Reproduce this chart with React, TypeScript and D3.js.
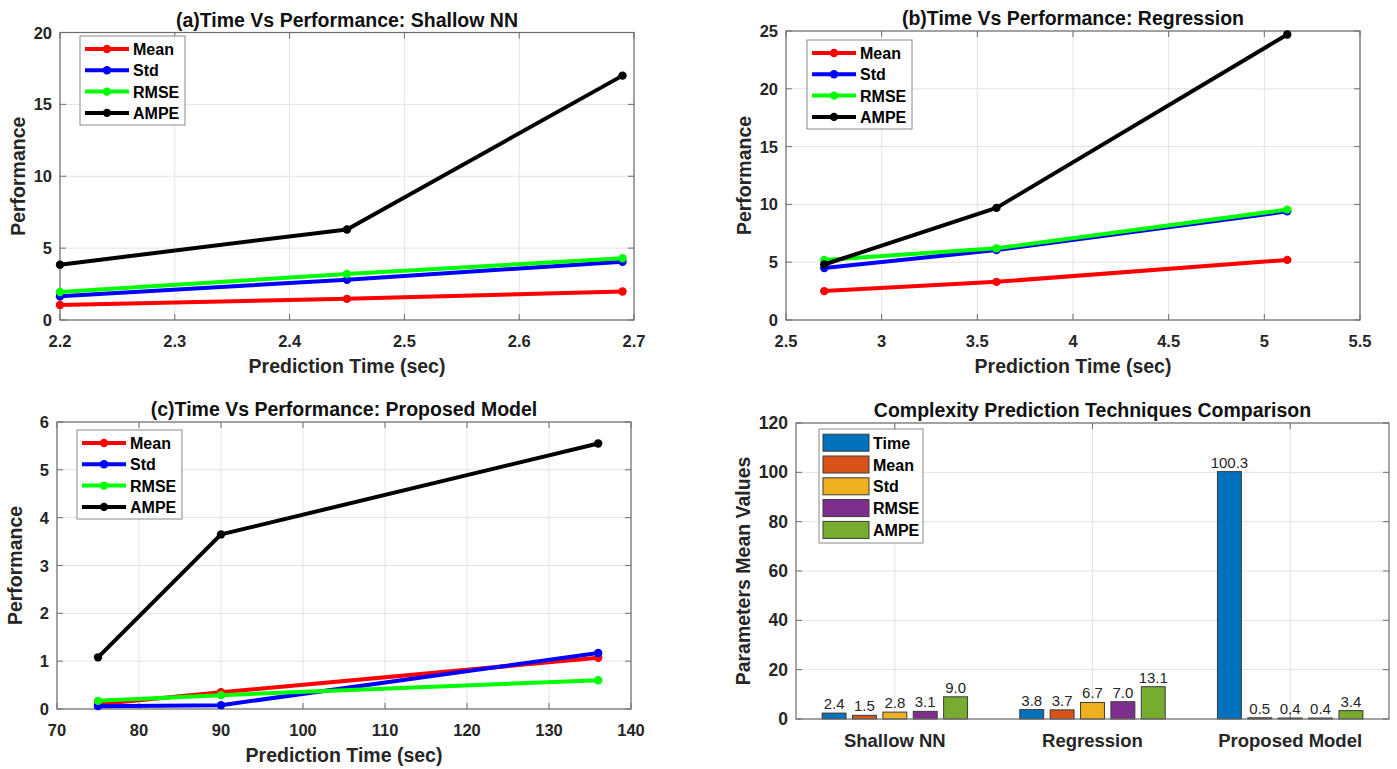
import React from "react";
import * as d3 from "d3";

// series shared by the three line panels
const seriesNames = ["Mean", "Std", "RMSE", "AMPE"];
const seriesColors = ["#ff0000", "#0000ff", "#00ff00", "#000000"];

// (a) Shallow NN
const shallowTime = [2.2, 2.45, 2.69];
const shallowMean = [1.05, 1.47, 1.98];
const shallowStd = [1.65, 2.8, 4.05];
const shallowRmse = [1.95, 3.2, 4.3];
const shallowAmpe = [3.85, 6.3, 17.0];

// (b) Regression
const regTime = [2.7, 3.6, 5.12];
const regMean = [2.5, 3.3, 5.2];
const regStd = [4.5, 6.05, 9.4];
const regRmse = [5.2, 6.2, 9.55];
const regAmpe = [4.8, 9.7, 24.7];

// (c) Proposed model
const propTime = [75, 90, 136];
const propMean = [0.1, 0.35, 1.07];
const propStd = [0.06, 0.08, 1.17];
const propRmse = [0.17, 0.29, 0.6];
const propAmpe = [1.08, 3.65, 5.55];

// tick values
const aXTicks = [2.2, 2.3, 2.4, 2.5, 2.6, 2.7];
const aYTicks = [0, 5, 10, 15, 20];
const bXTicks = [2.5, 3, 3.5, 4, 4.5, 5, 5.5];
const bYTicks = [0, 5, 10, 15, 20, 25];
const cXTicks = [70, 80, 90, 100, 110, 120, 130, 140];
const cYTicks = [0, 1, 2, 3, 4, 5, 6];

// bar chart: mean values per technique
const barCategories = ["Shallow NN", "Regression", "Proposed Model"];
const barSeriesNames = ["Time", "Mean", "Std", "RMSE", "AMPE"];
const barColors = ["#0072BD", "#D95319", "#EDB120", "#7E2F8E", "#77AC30"];
const barTime = [2.4, 3.8, 100.3];
const barMean = [1.5, 3.7, 0.5];
const barStd = [2.8, 6.7, 0.4];
const barRmse = [3.1, 7.0, 0.4];
const barAmpe = [9.0, 13.1, 3.4];
const barYTicks = [0, 20, 40, 60, 80, 100, 120];

const FONT = "'Liberation Sans', Arial, Helvetica, sans-serif";
const TXT = "#262626";
const GRID = "#e3e3e3";
const AXIS = "#6e6e6e";
const fmt = d3.format("~g");

type Box = { left: number; right: number; top: number; bottom: number };

const LinePanel = ({ box, xDomain, xTicks, yDomain, yTicks, title, xs, ys, legend }: any) => {
  const x = d3.scaleLinear().domain(xDomain).range([box.left, box.right]);
  const y = d3.scaleLinear().domain(yDomain).range([box.bottom, box.top]);
  const line = d3.line<[number, number]>().x(d => x(d[0])).y(d => y(d[1]));
  const tk = 6;
  return (
    <g>
      {xTicks.map((t: number) => (
        <line key={"gx" + t} x1={x(t)} x2={x(t)} y1={box.top} y2={box.bottom} stroke={GRID} />
      ))}
      {yTicks.map((t: number) => (
        <line key={"gy" + t} x1={box.left} x2={box.right} y1={y(t)} y2={y(t)} stroke={GRID} />
      ))}
      {xTicks.map((t: number) => (
        <g key={"tx" + t}>
          <line x1={x(t)} x2={x(t)} y1={box.bottom} y2={box.bottom - tk} stroke={AXIS} />
          <line x1={x(t)} x2={x(t)} y1={box.top} y2={box.top + tk} stroke={AXIS} />
          <text x={x(t)} y={box.bottom + 26.5} textAnchor="middle" fontSize={16.5} fontWeight="bold" fill={TXT}>
            {fmt(t)}
          </text>
        </g>
      ))}
      {yTicks.map((t: number) => (
        <g key={"ty" + t}>
          <line x1={box.left} x2={box.left + tk} y1={y(t)} y2={y(t)} stroke={AXIS} />
          <line x1={box.right} x2={box.right - tk} y1={y(t)} y2={y(t)} stroke={AXIS} />
          <text x={box.left - 8} y={y(t) + 6} textAnchor="end" fontSize={16.5} fontWeight="bold" fill={TXT}>
            {fmt(t)}
          </text>
        </g>
      ))}
      <rect x={box.left} y={box.top} width={box.right - box.left} height={box.bottom - box.top}
        fill="none" stroke={AXIS} strokeWidth={1.2} />
      {ys.map((vals: number[], i: number) => {
        const pts: [number, number][] = vals.map((v, j) => [xs[j], v]);
        return (
          <g key={"s" + i}>
            <path d={line(pts) || ""} fill="none" stroke={seriesColors[i]} strokeWidth={4} strokeLinejoin="round" />
            {pts.map((p, j) => (
              <circle key={j} cx={x(p[0])} cy={y(p[1])} r={4.2} fill={seriesColors[i]} />
            ))}
          </g>
        );
      })}
      <text x={(box.left + box.right) / 2} y={box.top - 6} textAnchor="middle" fontSize={19.5} fontWeight="bold" fill="#111">
        {title}
      </text>
      <text x={(box.left + box.right) / 2} y={box.bottom + 53} textAnchor="middle" fontSize={19.5} fontWeight="bold" fill={TXT}>
        Prediction Time (sec)
      </text>
      <text transform={`translate(${box.left - 35},${(box.top + box.bottom) / 2}) rotate(-90)`}
        textAnchor="middle" fontSize={19.5} fontWeight="bold" fill={TXT}>
        Performance
      </text>
      <rect x={legend.x} y={legend.y} width={105} height={89} fill="#fff" stroke="#8a8a8a" />
      {seriesNames.map((n, i) => {
        const cy = legend.y + 13 + i * 21.3;
        return (
          <g key={"l" + n}>
            <line x1={legend.x + 5} x2={legend.x + 49} y1={cy} y2={cy} stroke={seriesColors[i]} strokeWidth={4} />
            <circle cx={legend.x + 27} cy={cy} r={4.2} fill={seriesColors[i]} />
            <text x={legend.x + 53} y={cy + 6} fontSize={16} fontWeight="bold" fill="#000">{n}</text>
          </g>
        );
      })}
    </g>
  );
};

const BarPanel = () => {
  const box: Box = { left: 796, right: 1389, top: 423, bottom: 719 };
  const x = d3.scaleLinear().domain([0.5, 3.5]).range([box.left, box.right]);
  const y = d3.scaleLinear().domain([0, 120]).range([box.bottom, box.top]);
  const values = [barTime, barMean, barStd, barRmse, barAmpe];
  const step = 0.1537;
  const bw = 0.121;
  const tk = 6;
  const legend = { x: 819, y: 429 };
  return (
    <g>
      {barCategories.map((c, i) => (
        <line key={"gx" + c} x1={x(i + 1)} x2={x(i + 1)} y1={box.top} y2={box.bottom} stroke={GRID} />
      ))}
      {barYTicks.map(t => (
        <line key={"gy" + t} x1={box.left} x2={box.right} y1={y(t)} y2={y(t)} stroke={GRID} />
      ))}
      {barYTicks.map(t => (
        <g key={"ty" + t}>
          <line x1={box.left} x2={box.left + tk} y1={y(t)} y2={y(t)} stroke={AXIS} />
          <line x1={box.right} x2={box.right - tk} y1={y(t)} y2={y(t)} stroke={AXIS} />
          <text x={box.left - 8} y={y(t) + 6} textAnchor="end" fontSize={17.5} fontWeight="bold" fill={TXT}>
            {t}
          </text>
        </g>
      ))}
      {barCategories.map((c, i) => (
        <g key={"tx" + c}>
          <line x1={x(i + 1)} x2={x(i + 1)} y1={box.bottom} y2={box.bottom - tk} stroke={AXIS} />
          <line x1={x(i + 1)} x2={x(i + 1)} y1={box.top} y2={box.top + tk} stroke={AXIS} />
          <text x={x(i + 1)} y={box.bottom + 28} textAnchor="middle" fontSize={18.5} fontWeight="bold" fill={TXT}>
            {c}
          </text>
        </g>
      ))}
      {values.map((vals, j) =>
        vals.map((v, i) => {
          const cx = i + 1 + (j - 2) * step;
          return (
            <g key={`b${j}-${i}`}>
              <rect x={x(cx - bw / 2)} y={y(v)} width={x(cx + bw / 2) - x(cx - bw / 2)} height={y(0) - y(v)}
                fill={barColors[j]} stroke="#3a3a3a" strokeWidth={1} />
              <text x={x(cx)} y={y(v) - 4} textAnchor="middle" fontSize={15} fill={TXT}>
                {v.toFixed(1)}
              </text>
            </g>
          );
        })
      )}
      <rect x={box.left} y={box.top} width={box.right - box.left} height={box.bottom - box.top}
        fill="none" stroke={AXIS} strokeWidth={1.2} />
      <text x={(box.left + box.right) / 2} y={box.top - 6} textAnchor="middle" fontSize={19.5} fontWeight="bold" fill="#111">
        Complexity Prediction Techniques Comparison
      </text>
      <text transform={`translate(${box.left - 46},${(box.top + box.bottom) / 2}) rotate(-90)`}
        textAnchor="middle" fontSize={19.5} fontWeight="bold" fill={TXT}>
        Parameters Mean Values
      </text>
      <rect x={legend.x} y={legend.y} width={104} height={114} fill="#fff" stroke="#8a8a8a" />
      {barSeriesNames.map((n, i) => {
        const cy = legend.y + 13.7 + i * 21.8;
        return (
          <g key={"l" + n}>
            <rect x={legend.x + 4} y={cy - 8.5} width={46} height={17} fill={barColors[i]} stroke="#3a3a3a" />
            <text x={legend.x + 54} y={cy + 6} fontSize={16} fontWeight="bold" fill="#000">{n}</text>
          </g>
        );
      })}
    </g>
  );
};

export default function App() {
  return (
    <svg width={1397} height={769} fontFamily={FONT}
      style={{ position: "absolute", left: 0, top: 0, background: "#fff" }}>
      <rect width={1397} height={769} fill="#fff" />
      <LinePanel
        box={{ left: 60, right: 634, top: 32.5, bottom: 320 }}
        xDomain={[2.2, 2.7]} xTicks={aXTicks} yDomain={[0, 20]} yTicks={aYTicks}
        title="(a)Time Vs Performance: Shallow NN"
        xs={shallowTime} ys={[shallowMean, shallowStd, shallowRmse, shallowAmpe]}
        legend={{ x: 80, y: 36 }}
      />
      <LinePanel
        box={{ left: 786, right: 1360, top: 31, bottom: 320 }}
        xDomain={[2.5, 5.5]} xTicks={bXTicks} yDomain={[0, 25]} yTicks={bYTicks}
        title="(b)Time Vs Performance: Regression"
        xs={regTime} ys={[regMean, regStd, regRmse, regAmpe]}
        legend={{ x: 807, y: 40 }}
      />
      <LinePanel
        box={{ left: 57, right: 631, top: 422, bottom: 709 }}
        xDomain={[70, 140]} xTicks={cXTicks} yDomain={[0, 6]} yTicks={cYTicks}
        title="(c)Time Vs Performance: Proposed Model"
        xs={propTime} ys={[propMean, propStd, propRmse, propAmpe]}
        legend={{ x: 77, y: 430 }}
      />
      <BarPanel />
    </svg>
  );
}
